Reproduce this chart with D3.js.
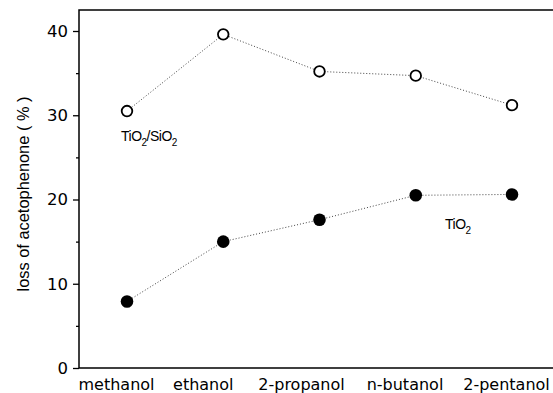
<!DOCTYPE html>
<html>
<head>
<meta charset="utf-8">
<script src="https://cdn.jsdelivr.net/npm/d3@7"></script>
<style>
  body { margin: 0; background: #fff; }
  svg { display: block; }
</style>
</head>
<body>
<div id="vis"></div>
<script>
const solvents = ["methanol", "ethanol", "2-propanol", "n-butanol", "2-pentanol"];
const tioSio = [30.5, 39.6, 35.2, 34.7, 31.2];
const tio = [7.9, 15.0, 17.6, 20.5, 20.6];
const yTicks = [0, 10, 20, 30, 40];
const yMinor = [5, 15, 25, 35];

const W = 553, H = 393;
const frame = { left: 79, right: 553, top: 10, bottom: 368 };

const svg = d3.select("#vis")
    .append("svg")
    .attr("width", W)
    .attr("height", H);

const x = d3.scalePoint()
    .domain(solvents)
    .range([127, 512]);

const y = d3.scaleLinear()
    .domain([0, 40])
    .range([frame.bottom, 31]);

// frame: left, bottom, top (no right side)
svg.append("path")
    .attr("d", `M${frame.right},${frame.top}H${frame.left}V${frame.bottom}H${frame.right}`)
    .attr("fill", "none")
    .attr("stroke", "#000")
    .attr("stroke-width", 1.5);

// y axis ticks
const yAxis = d3.axisLeft(y)
    .tickValues(yTicks)
    .tickSize(6)
    .tickPadding(5);

const yg = svg.append("g")
    .attr("transform", `translate(${frame.left},0)`)
    .call(yAxis);
yg.select(".domain").remove();
yg.selectAll("line").attr("stroke-width", 1.3);
yg.selectAll("text")
    .style("font-family", "DejaVu Sans")
    .style("font-size", "16.5px")
    .attr("fill", "#000");

svg.append("g")
    .attr("transform", `translate(${frame.left},0)`)
    .call(d3.axisLeft(y).tickValues(yMinor).tickSize(3).tickFormat(""))
    .call(g => g.select(".domain").remove())
    .selectAll("line").attr("stroke-width", 1.3);

// x labels (offset as in the original figure)
const labelShift = [-10.5, -20, -18, -10.75, -5.5];
svg.selectAll(".xlab")
    .data(solvents)
    .enter()
    .append("text")
    .attr("class", "xlab")
    .attr("x", (d, i) => x(d) + labelShift[i])
    .attr("y", 390)
    .attr("text-anchor", "middle")
    .style("font-family", "DejaVu Sans")
    .style("font-size", "16px")
    .text(d => d);

// y axis title
svg.append("text")
    .attr("transform", `translate(29,194) rotate(-90)`)
    .attr("text-anchor", "middle")
    .style("font-family", "Liberation Sans, Arial, sans-serif")
    .style("font-size", "16.4px")
    .text("loss of acetophenone ( % )");

const line = d3.line()
    .x((d, i) => x(solvents[i]))
    .y(d => y(d));

[tioSio, tio].forEach(series => {
    svg.append("path")
        .datum(series)
        .attr("d", line)
        .attr("fill", "none")
        .attr("stroke", "#444")
        .attr("stroke-width", 1)
        .attr("stroke-dasharray", "1,2");
});

svg.selectAll(".open")
    .data(tioSio)
    .enter()
    .append("circle")
    .attr("cx", (d, i) => x(solvents[i]))
    .attr("cy", d => y(d))
    .attr("r", 5.3)
    .attr("fill", "#fff")
    .attr("stroke", "#000")
    .attr("stroke-width", 1.8);

svg.selectAll(".filled")
    .data(tio)
    .enter()
    .append("circle")
    .attr("cx", (d, i) => x(solvents[i]))
    .attr("cy", d => y(d))
    .attr("r", 6.3)
    .attr("fill", "#000");

// series labels
function chemLabel(px, py, parts) {
    const t = svg.append("text")
        .attr("x", px)
        .attr("y", py)
        .style("font-family", "Liberation Sans, Arial, sans-serif")
        .style("font-size", "14px")
        .style("letter-spacing", "-0.5px");
    let shift = 0;
    parts.forEach(p => {
        const target = p.sub ? 5 : 0;
        const ts = t.append("tspan").attr("dy", target - shift).text(p.s);
        if (p.sub) ts.style("font-size", "10px");
        shift = target;
    });
}

chemLabel(121, 141, [{s: "TiO"}, {s: "2", sub: true}, {s: "/SiO"}, {s: "2", sub: true}]);
chemLabel(445, 229, [{s: "TiO"}, {s: "2", sub: true}]);
</script>
</body>
</html>
